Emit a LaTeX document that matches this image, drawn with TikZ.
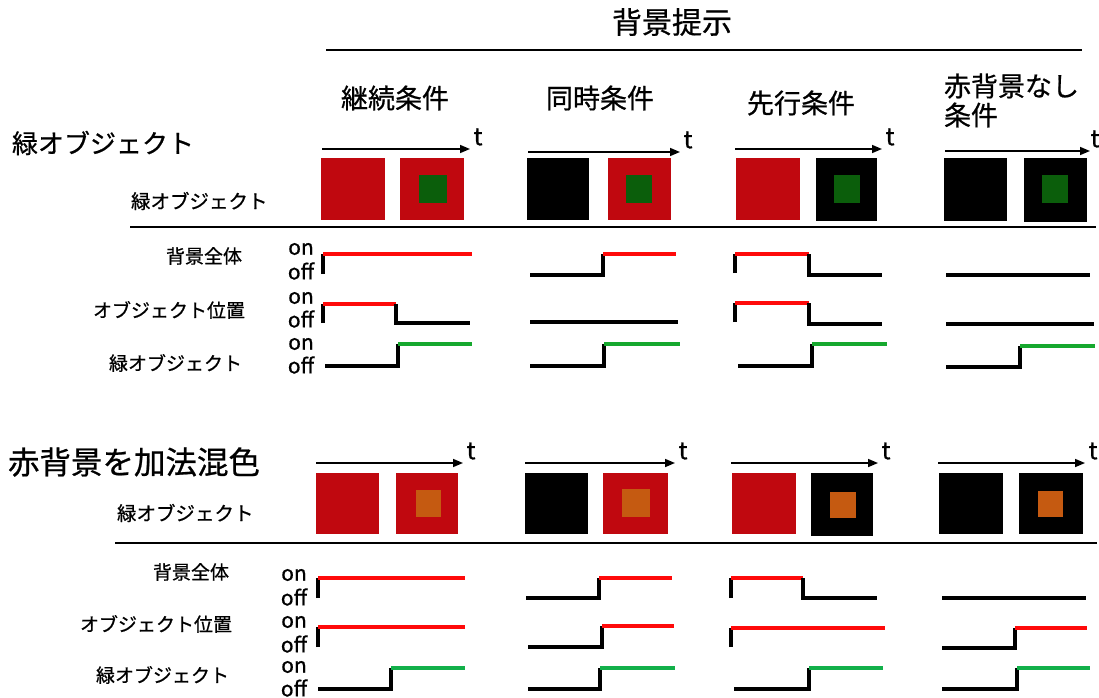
\documentclass[tikz,border=0pt]{standalone}
\usepackage{fontspec}
\setmainfont{Noto Sans CJK JP}[FakeBold=0.7]
\usetikzlibrary{arrows.meta}
\definecolor{bxred}{HTML}{C0080F}
\definecolor{bxgreen}{HTML}{0B5E0B}
\definecolor{bxorange}{HTML}{C55A11}
\definecolor{sigred}{HTML}{FF0A0A}
\definecolor{siggreen}{HTML}{16A82E}
\definecolor{siggreenb}{HTML}{12B04A}
\newcommand{\fs}[1]{\fontsize{#1}{#1}\selectfont}
\tikzset{
  txt/.style={inner sep=0pt, outer sep=0pt},
  sepline/.style={line width=1.6pt, black},
  tarrow/.style={line width=1.6pt, -{Triangle[length=10pt,width=8pt]}},
  sigb/.style={line width=3.6pt, black, line join=miter},
  sigr/.style={line width=3.6pt, sigred},
  sigg/.style={line width=3.6pt, siggreen},
  siggb/.style={line width=3.6pt, siggreenb},
  head/.style={txt, font=\fs{27}},
  lab/.style={txt, font=\fs{19}, anchor=east},
  onoff/.style={txt, font=\fs{21}},
  tlab/.style={txt, font=\fs{24}},
}
\begin{document}
\begin{tikzpicture}[x=1pt,y=-1pt]
\useasboundingbox (0,0) rectangle (1099,697);

% ---------- header ----------
\node[txt, font=\fs{30}] (title) at (672,22) {背景提示};
\coordinate (tl1) at (326,50); \coordinate (tl2) at (1082,50);
\draw[sepline] (tl1) -- (tl2);
\node[head] (h1) at (395,98) {継続条件};
\node[head] (h2) at (600,98) {同時条件};
\node[head] (h3) at (801,103) {先行条件};
\node[head, anchor=west] (h4a) at (944,86) {赤背景なし};
\node[head, anchor=west] (h4b) at (944,115) {条件};

% ---------- section 1 ----------
\node[txt, font=\fs{26}, anchor=west] (sec1) at (12,143) {緑オブジェクト};
\node[txt, font=\fs{19.5}, anchor=west] (obj1) at (131,201) {緑オブジェクト};

% time arrows
\coordinate (a1s) at (322,149); \coordinate (a1e) at (470,149);
\coordinate (a2s) at (528,152); \coordinate (a2e) at (680,152);
\coordinate (a3s) at (735,149); \coordinate (a3e) at (882,149);
\coordinate (a4s) at (945,151); \coordinate (a4e) at (1090,151);
\foreach \i in {1,2,3,4}{
  \draw[tarrow] (a\i s) -- (a\i e);
}
\node[tlab] (t1) at (478,137) {t};
\node[tlab] (t2) at (688,140) {t};
\node[tlab] (t3) at (890,137) {t};
\node[tlab] (t4) at (1095,139) {t};

% stimulus boxes (y 158-220)
\fill[bxred]   (321,158) rectangle (385,220);
\fill[bxred]   (400,158) rectangle (464,220);
\fill[bxgreen] (419,175) rectangle (447,203);
\fill[black]   (527,158) rectangle (589,220);
\fill[bxred]   (608,158) rectangle (671,220);
\fill[bxgreen] (626,175) rectangle (652,203);
\fill[bxred]   (736,158) rectangle (800,220);
\fill[black]   (816,158) rectangle (877,221);
\fill[bxgreen] (834,175) rectangle (860,203);
\fill[black]   (944,158) rectangle (1007,221);
\fill[black]   (1024,158) rectangle (1087,222);
\fill[bxgreen] (1042,175) rectangle (1068,203);

\coordinate (s1a) at (130,227); \coordinate (s1b) at (1096,227);
\draw[sepline] (s1a) -- (s1b);

% timing labels
\node[lab] (l11) at (242,256) {背景全体};
\node[lab] (l12) at (245,310) {オブジェクト位置};
\node[lab] (l13) at (242,363) {緑オブジェクト};
\foreach \y/\n in {249/on,271/off,298/on,319/off,344/on,365/off}{
  \node[onoff] at (301,\y) {\n};
}

% col 1
\draw[sigb] (323,274) -- (323,254);
\draw[sigr] (323,254) -- (472,254);
\draw[sigb] (323,323) -- (323,304);
\draw[sigr] (323,304) -- (396,304);
\draw[sigb] (396,304) -- (396,323) -- (470,323);
\draw[sigb] (325,366) -- (398,366) -- (398,344);
\draw[sigg] (398,344) -- (472,344);
% col 2
\draw[sigb] (530,275) -- (603,275) -- (603,254);
\draw[sigr] (603,254) -- (676,254);
\draw[sigb] (530,322) -- (678,322);
\draw[sigb] (530,366) -- (604,366) -- (604,344);
\draw[sigg] (604,344) -- (680,344);
% col 3
\draw[sigb] (735,273) -- (735,254);
\draw[sigr] (735,254) -- (809,254);
\draw[sigb] (809,254) -- (809,275) -- (882,275);
\draw[sigb] (735,322) -- (735,303);
\draw[sigr] (735,303) -- (809,303);
\draw[sigb] (809,303) -- (809,324) -- (882,324);
\draw[sigb] (738,366) -- (812,366) -- (812,344);
\draw[sigg] (812,344) -- (887,344);
% col 4
\draw[sigb] (946,275) -- (1090,275);
\draw[sigb] (946,324) -- (1094,324);
\draw[sigb] (946,367) -- (1020,367) -- (1020,346);
\draw[sigg] (1020,346) -- (1095,346);

% ---------- section 2 ----------
\node[txt, font=\fs{31.5}, anchor=west] (sec2) at (8,462) {赤背景を加法混色};
\node[txt, font=\fs{19.5}, anchor=west] (obj2) at (117,513) {緑オブジェクト};

\coordinate (b1s) at (316,463); \coordinate (b1e) at (463,463);
\coordinate (b2s) at (525,463); \coordinate (b2e) at (675,463);
\coordinate (b3s) at (731,463); \coordinate (b3e) at (878,463);
\coordinate (b4s) at (938,463); \coordinate (b4e) at (1085,463);
\foreach \i in {1,2,3,4}{
  \draw[tarrow] (b\i s) -- (b\i e);
  \node[tlab] (u\i) at ([shift={(8,-12)}]b\i e) {t};
}

\fill[bxred]    (316,473) rectangle (379,534);
\fill[bxred]    (396,473) rectangle (458,534);
\fill[bxorange] (416,490) rectangle (441,517);
\fill[black]    (525,473) rectangle (588,534);
\fill[bxred]    (603,473) rectangle (668,534);
\fill[bxorange] (622,489) rectangle (650,517);
\fill[bxred]    (732,473) rectangle (796,534);
\fill[black]    (811,473) rectangle (873,536);
\fill[bxorange] (830,492) rectangle (856,518);
\fill[black]    (939,473) rectangle (1003,534);
\fill[black]    (1019,473) rectangle (1083,534);
\fill[bxorange] (1038,491) rectangle (1063,517);

\coordinate (s2a) at (115,543); \coordinate (s2b) at (1097,543);
\draw[sepline] (s2a) -- (s2b);

\node[lab] (l21) at (229,572) {背景全体};
\node[lab] (l22) at (232,624) {オブジェクト位置};
\node[lab] (l23) at (229,675) {緑オブジェクト};
\foreach \y/\n in {575/on,597/off,622/on,644/off,667/on,688/off}{
  \node[onoff] at (294,\y) {\n};
}

% col 1
\draw[sigb] (318,598) -- (318,578);
\draw[sigr] (318,578) -- (465,578);
\draw[sigb] (318,647) -- (318,627);
\draw[sigr] (318,627) -- (465,627);
\draw[sigb] (318,689) -- (391,689) -- (391,668);
\draw[siggb] (391,668) -- (465,668);
% col 2
\draw[sigb] (526,598) -- (599,598) -- (599,578);
\draw[sigr] (599,578) -- (672,578);
\draw[sigb] (528,647) -- (602,647) -- (602,626);
\draw[sigr] (602,626) -- (674,626);
\draw[sigb] (528,689) -- (600,689) -- (600,668);
\draw[siggb] (600,668) -- (675,668);
% col 3
\draw[sigb] (731,598) -- (731,578);
\draw[sigr] (731,578) -- (803,578);
\draw[sigb] (803,578) -- (803,598) -- (877,598);
\draw[sigb] (731,647) -- (731,628);
\draw[sigr] (731,628) -- (885,628);
\draw[sigb] (734,689) -- (809,689) -- (809,668);
\draw[siggb] (809,668) -- (883,668);
% col 4
\draw[sigb] (942,598) -- (1086,598);
\draw[sigb] (942,648) -- (1015,648) -- (1015,628);
\draw[sigr] (1015,628) -- (1087,628);
\draw[sigb] (942,689) -- (1017,689) -- (1017,668);
\draw[siggb] (1017,668) -- (1090,668);
\end{tikzpicture}
\end{document}
